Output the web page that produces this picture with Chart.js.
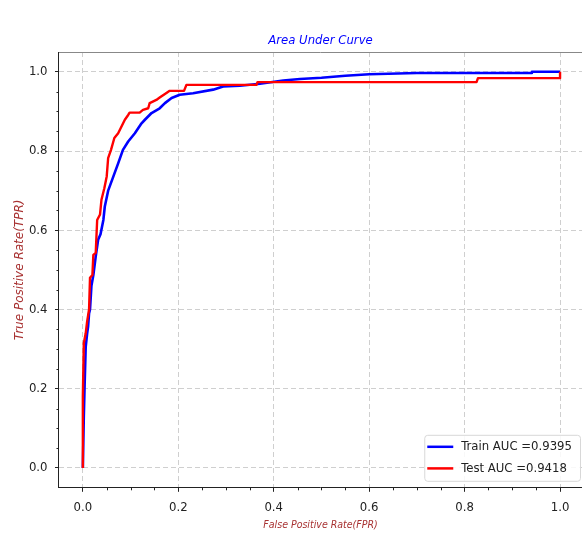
<!DOCTYPE html>
<html>
<head>
<meta charset="utf-8">
<script src="https://cdn.jsdelivr.net/npm/chart.js@4.4.1/dist/chart.umd.min.js"></script>
<style>
    html, body { margin: 0; padding: 0; background: #fff; }
    #wrap { width: 582px; height: 533px; }
</style>
</head>
<body>
<div id="wrap"><canvas id="roc"></canvas></div>
<script>
/* ---------- 資料：ROC 點 ---------- */
const trainFpr = [0, 0.002, 0.004, 0.006, 0.009, 0.011, 0.013, 0.015, 0.018, 0.022, 0.027, 0.032, 0.037, 0.043, 0.046, 0.053, 0.064, 0.074, 0.084, 0.095, 0.109, 0.123, 0.13, 0.144, 0.161, 0.172, 0.186, 0.203, 0.231, 0.273, 0.294, 0.329, 0.371, 0.42, 0.455, 0.5, 0.55, 0.6, 0.7, 0.94, 0.941, 1.0];
const trainTpr = [0, 0.13, 0.222, 0.306, 0.34, 0.357, 0.39, 0.40, 0.46, 0.487, 0.534, 0.576, 0.59, 0.626, 0.66, 0.70, 0.736, 0.769, 0.803, 0.824, 0.845, 0.870, 0.879, 0.896, 0.908, 0.921, 0.934, 0.942, 0.946, 0.955, 0.963, 0.965, 0.970, 0.978, 0.982, 0.985, 0.99, 0.994, 0.997, 0.997, 1.0, 1.0];

const testFpr = [0, 0, 0.002, 0.006, 0.009, 0.013, 0.015, 0.02, 0.022, 0.027, 0.03, 0.036, 0.039, 0.045, 0.05, 0.053, 0.059, 0.066, 0.074, 0.081, 0.088, 0.095, 0.098, 0.119, 0.126, 0.137, 0.140, 0.154, 0.161, 0.172, 0.182, 0.212, 0.217, 0.364, 0.366, 0.825, 0.828, 1.0, 1.0];
const testTpr = [0, 0.18, 0.315, 0.34, 0.37, 0.40, 0.48, 0.487, 0.538, 0.543, 0.626, 0.64, 0.677, 0.706, 0.736, 0.782, 0.803, 0.833, 0.845, 0.862, 0.879, 0.891, 0.897, 0.897, 0.904, 0.908, 0.921, 0.929, 0.935, 0.944, 0.952, 0.952, 0.967, 0.967, 0.974, 0.974, 0.984, 0.984, 1.0];

const seriesLabels = ["Train AUC =0.9395", "Test AUC =0.9418"];
const seriesColors = ["#0000ff", "#ff0000"];
const tickValues = [0, 0.2, 0.4, 0.6, 0.8, 1.0];
const minorStep = 0.05;

/* ---------- 樣式 ---------- */
const FONT = "'DejaVu Sans Condensed', 'DejaVu Sans', sans-serif";
const LABEL_COLOR = "#a83232";

const toPoints = (xs, ys) => xs.map((x, i) => ({ x, y: ys[i] }));

// 外框上緣 + 次刻度
const framePlugin = {
    id: "frame",
    afterDraw(chart) {
        const { ctx, chartArea: a, scales: { x, y } } = chart;
        ctx.save();
        ctx.strokeStyle = "#888";
        ctx.lineWidth = 1;
        ctx.beginPath();
        ctx.moveTo(a.left, a.top + 0.5);
        ctx.lineTo(a.right, a.top + 0.5);
        ctx.stroke();

        ctx.strokeStyle = "#222";
        ctx.beginPath();
        for (let i = 1; i < 20; i++) {
            if (i % 4 === 0) continue;
            const v = i * minorStep;
            const px = Math.round(x.getPixelForValue(v)) + 0.5;
            ctx.moveTo(px, a.bottom);
            ctx.lineTo(px, a.bottom + 2.5);
            const py = Math.round(y.getPixelForValue(v)) + 0.5;
            ctx.moveTo(a.left, py);
            ctx.lineTo(a.left - 2.5, py);
        }
        ctx.stroke();
        ctx.restore();
    }
};

// 右下角圖例（畫在圖內）
const legendPlugin = {
    id: "innerLegend",
    afterDraw(chart) {
        const { ctx, chartArea: a } = chart;
        const sets = chart.data.datasets;
        ctx.save();
        ctx.font = "13px " + FONT;
        const textW = Math.max(...sets.map(d => ctx.measureText(d.label).width));
        const right = a.right - 2, bottom = a.bottom - 7;
        const w = 3 + 26 + 8 + textW + 8, h = 46;
        const left = right - w, top = bottom - h;

        ctx.fillStyle = "rgba(255,255,255,0.85)";
        ctx.strokeStyle = "#d8d8d8";
        ctx.lineWidth = 1;
        ctx.beginPath();
        ctx.roundRect(left + 0.5, top + 0.5, w, h, 3);
        ctx.fill();
        ctx.stroke();

        sets.forEach((d, i) => {
            const cy = top + 12 + i * 21.6;
            ctx.strokeStyle = d.borderColor;
            ctx.lineWidth = 2.5;
            ctx.beginPath();
            ctx.moveTo(left + 3, cy);
            ctx.lineTo(left + 29, cy);
            ctx.stroke();
            ctx.fillStyle = "#222";
            ctx.textBaseline = "middle";
            ctx.textAlign = "left";
            ctx.fillText(d.label, left + 37, cy);
        });
        ctx.restore();
    }
};

const commonTicks = {
    color: "#222",
    font: { family: FONT, size: 13 },
    callback: v => v.toFixed(1)
};

new Chart(document.getElementById("roc"), {
    type: "scatter",
    data: {
        datasets: [
            {
                label: seriesLabels[0],
                data: toPoints(trainFpr, trainTpr),
                borderColor: seriesColors[0],
                backgroundColor: seriesColors[0],
                borderWidth: 2.6,
                showLine: true,
                pointRadius: 0,
                tension: 0,
                borderJoinStyle: "round",
                order: 2
            },
            {
                label: seriesLabels[1],
                data: toPoints(testFpr, testTpr),
                borderColor: seriesColors[1],
                backgroundColor: seriesColors[1],
                borderWidth: 2.4,
                showLine: true,
                pointRadius: 0,
                tension: 0,
                borderJoinStyle: "round",
                order: 1
            }
        ]
    },
    options: {
        responsive: true,
        maintainAspectRatio: false,
        animation: false,
        layout: { padding: { top: 0, right: 0, bottom: 0, left: 0 } },
        plugins: {
            legend: { display: false },
            tooltip: { enabled: false },
            title: {
                display: true,
                text: "Area Under Curve",
                color: "#0000ff",
                fullSize: false,
                font: { family: FONT, size: 13, style: "italic", weight: "normal" },
                padding: { top: 32.7, bottom: 3.7 }
            }
        },
        scales: {
            x: {
                type: "linear",
                min: -0.05,
                max: 1.046,
                afterBuildTicks: s => { s.ticks = tickValues.map(v => ({ value: v })); },
                ticks: { ...commonTicks, padding: 8, maxRotation: 0 },
                grid: { color: "#cfcfcf", lineWidth: 1, tickLength: 4, tickColor: "#222" },
                border: { display: true, color: "#222", width: 1, dash: [5, 3] },
                title: {
                    display: true,
                    text: "False Positive Rate(FPR)",
                    color: LABEL_COLOR,
                    font: { family: FONT, size: 10.5, style: "italic" },
                    // Chart.js 會把 ticks.padding 算兩次，這裡扣回來
                    padding: { top: -4, bottom: 1 }
                }
            },
            y: {
                type: "linear",
                min: -0.05,
                max: 1.05,
                afterBuildTicks: s => { s.ticks = tickValues.map(v => ({ value: v })); },
                ticks: { ...commonTicks, padding: 7.5 },
                grid: { color: "#cfcfcf", lineWidth: 1, tickLength: 4, tickColor: "#222" },
                border: { display: true, color: "#222", width: 1, dash: [5, 3] },
                title: {
                    display: true,
                    text: "True Positive Rate(TPR)",
                    color: LABEL_COLOR,
                    font: { family: "'DejaVu Sans', sans-serif", size: 12, style: "italic" },
                    padding: { top: 13, bottom: -6 }
                }
            }
        }
    },
    plugins: [framePlugin, legendPlugin]
});
</script>
</body>
</html>
